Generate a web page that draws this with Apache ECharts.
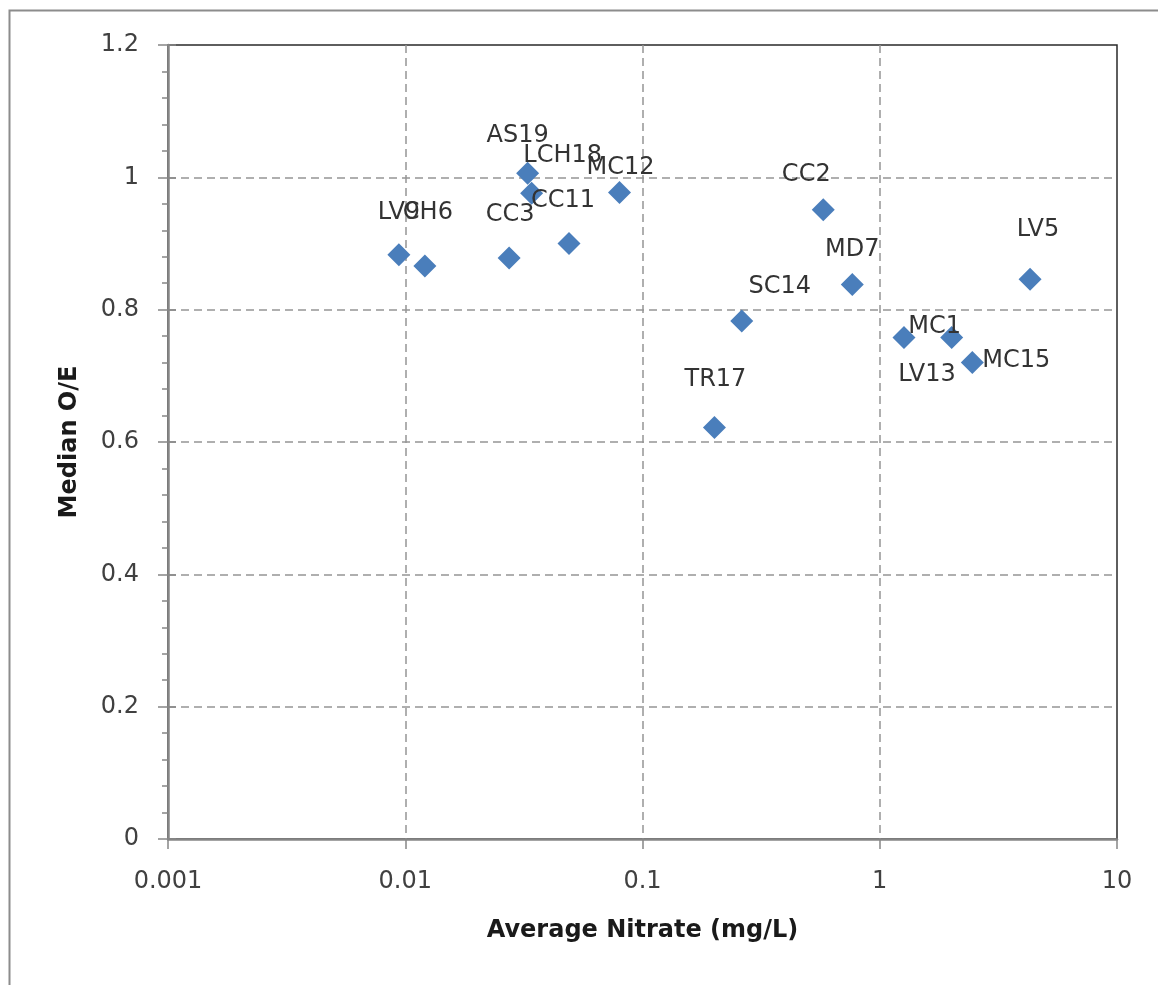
<!DOCTYPE html>
<html>
<head>
<meta charset="utf-8">
<script src="https://cdn.jsdelivr.net/npm/echarts@6/dist/echarts.min.js"></script>
<style>
  html, body { margin: 0; padding: 0; background: #fff; }
  #chart { width: 1158px; height: 985px; }
</style>
</head>
<body>
<div id="chart"></div>
<script>
// Sampling sites: average nitrate (mg/L) vs median O/E score
const sites   = ['LV9', 'CH6', 'CC3', 'AS19', 'LCH18', 'CC11', 'MC12', 'CC2', 'MD7', 'SC14', 'TR17', 'LV5', 'MC1', 'LV13', 'MC15'];
const nitrate = [0.0094, 0.0121, 0.0274, 0.0328, 0.0341, 0.049, 0.080, 0.578, 0.766, 0.262, 0.201, 4.30, 2.01, 1.265, 2.455];
const medianOE = [0.883, 0.866, 0.878, 1.006, 0.976, 0.900, 0.977, 0.951, 0.838, 0.783, 0.622, 0.846, 0.758, 0.758, 0.720];
const xTicks = [0.001, 0.01, 0.1, 1, 10];
const yTicks = [0, 0.2, 0.4, 0.6, 0.8, 1, 1.2];

// Hand-placed label nudges (pixels from each marker's centre)
const labelNudge = {
  LV9: [0, -42], CH6: [3, -53], CC3: [1, -43], AS19: [-10, -38], LCH18: [31, -37],
  CC11: [-6, -43], MC12: [1, -25], CC2: [-17, -35], MD7: [0, -35], SC14: [38, -34],
  TR17: [1, -48], LV5: [8, -49], MC1: [-17, -11], LV13: [23, 37], MC15: [44, -2]
};

const FONT = 'DejaVu Sans';
const points = sites.map((name, i) => ({ name: name, value: [nitrate[i], medianOE[i]] }));

const fmt = v => String(parseFloat(Number(v).toPrecision(6)));

const chart = echarts.init(document.getElementById('chart'), null, { renderer: 'canvas' });
chart.setOption({
  animation: false,
  backgroundColor: '#ffffff',
  graphic: [{
    type: 'rect',
    left: 7, top: 8,
    shape: { width: 1170, height: 1000 },
    style: { fill: 'none', stroke: '#8c8c8c', lineWidth: 2 },
    z: -10
  }],
  grid: {
    left: 168, right: 41, top: 45, bottom: 146,
    show: true, borderColor: '#2a2a2a', borderWidth: 1.5, backgroundColor: 'transparent'
  },
  xAxis: {
    type: 'log', logBase: 10,
    min: xTicks[0], max: xTicks[xTicks.length - 1],
    name: 'Average Nitrate (mg/L)',
    nameLocation: 'middle', nameGap: 80,
    nameTextStyle: { fontFamily: FONT, fontSize: 24, fontWeight: 'bold', color: '#1a1a1a' },
    axisLine: { show: true, onZero: false, lineStyle: { color: '#868686', width: 2.5 } },
    axisTick: { show: true, length: 10, lineStyle: { color: '#868686', width: 1.5 } },
    axisLabel: {
      fontFamily: FONT, fontSize: 24, color: '#404040', margin: 31,
      formatter: v => fmt(v)
    },
    splitLine: {
      show: true, showMinLine: false, showMaxLine: false,
      lineStyle: { color: '#959595', width: 1.5, type: [8, 5] }
    }
  },
  yAxis: [{
    type: 'value',
    min: yTicks[0], max: yTicks[yTicks.length - 1], interval: 0.2,
    name: 'Median O/E',
    nameLocation: 'middle', nameGap: 86,
    nameTextStyle: { fontFamily: FONT, fontSize: 24, fontWeight: 'bold', color: '#1a1a1a' },
    axisLine: { show: true, lineStyle: { color: '#868686', width: 2.5 } },
    axisTick: { show: true, length: 10, lineStyle: { color: '#868686', width: 1.5 } },
    minorTick: { show: true, splitNumber: 5, length: 6, lineStyle: { color: '#868686', width: 1.5 } },
    axisLabel: {
      fontFamily: FONT, fontSize: 24, color: '#404040', margin: 29,
      formatter: v => fmt(v)
    },
    splitLine: {
      show: true, showMinLine: false, showMaxLine: false,
      lineStyle: { color: '#959595', width: 1.5, type: [8, 5] }
    }
  }, {
    // inner half of the major tick marks
    type: 'value', position: 'left', offset: 0,
    min: yTicks[0], max: yTicks[yTicks.length - 1], interval: 0.2,
    axisLine: { show: false },
    axisTick: { show: true, inside: true, length: 8, lineStyle: { color: '#868686', width: 1.5 } },
    axisLabel: { show: false },
    splitLine: { show: false }
  }],
  series: [{
    type: 'scatter',
    yAxisIndex: 0,
    symbol: 'diamond',
    symbolSize: 23,
    itemStyle: { color: '#4a7ebb', opacity: 1 },
    data: points,
    label: {
      show: true,
      position: 'inside',
      formatter: p => p.name,
      fontFamily: FONT, fontSize: 24, color: '#333333',
      align: 'center', verticalAlign: 'middle'
    },
    labelLayout: params => {
      const n = labelNudge[sites[params.dataIndex]] || [0, -40];
      return { dx: n[0], dy: n[1], hideOverlap: false };
    },
    z: 5
  }]
});
</script>
</body>
</html>
